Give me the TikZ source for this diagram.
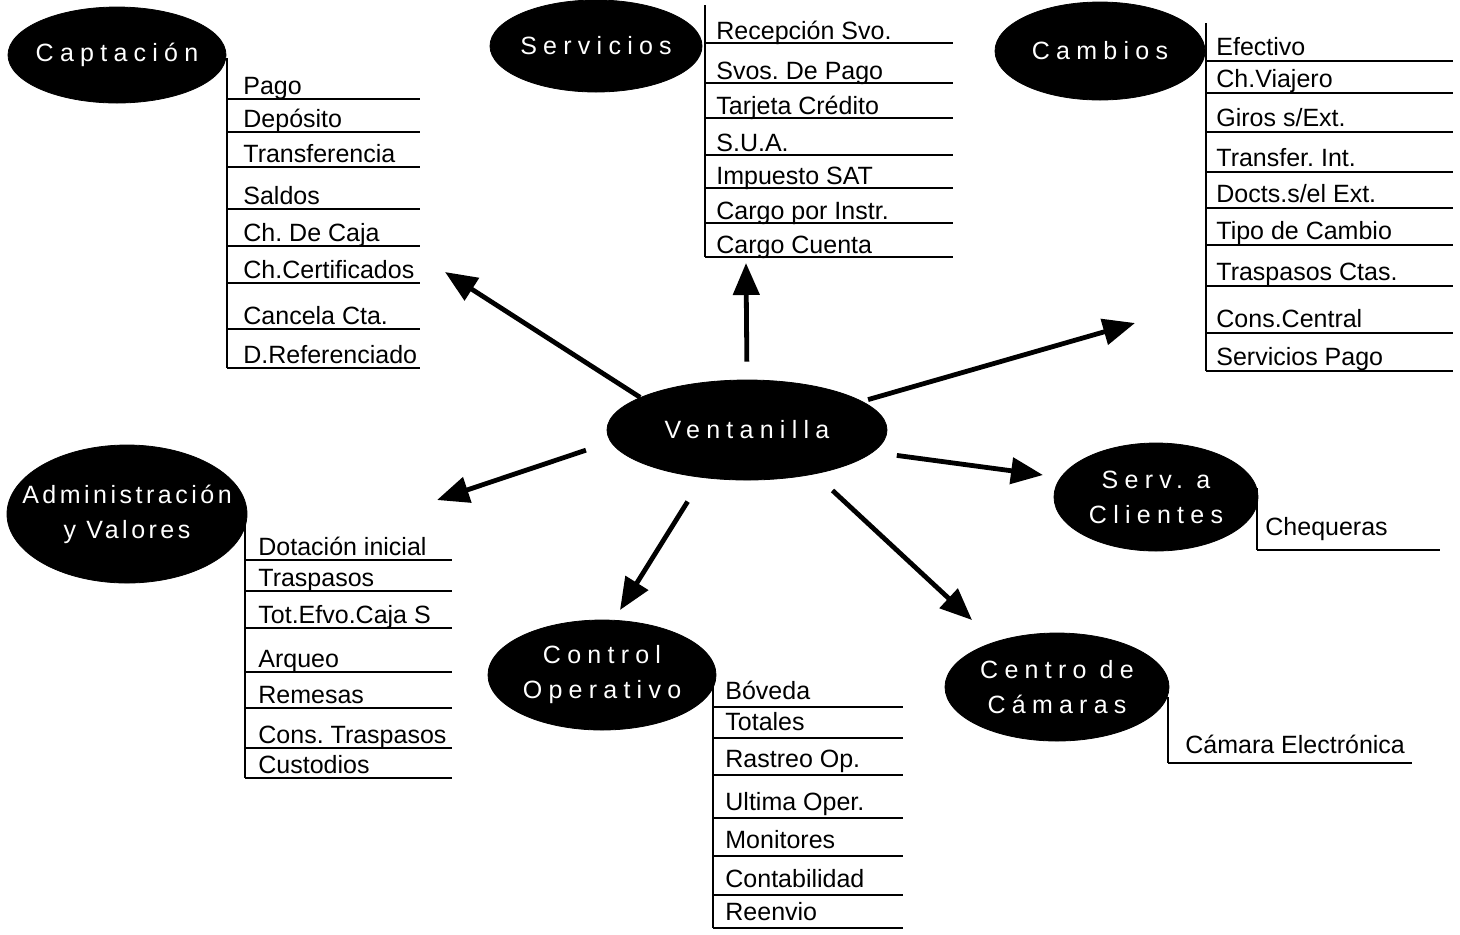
\documentclass[tikz,border=0pt]{standalone}
\usepackage{fontspec}
\setmainfont{Liberation Sans}
\newfontfamily\elipsefont[LetterSpace=25]{Liberation Sans}
\newfontfamily\elipsefontb[LetterSpace=14]{Liberation Sans}
\usetikzlibrary{arrows.meta,shapes.geometric}
\frenchspacing
\tikzset{
  elipse/.style={ellipse, fill=black, draw=black, text=white, inner xsep=-30pt,
    inner ysep=-4pt, align=center, font=\elipsefont\fontsize{12.5}{17.5}\selectfont},
  opcion/.style={anchor=base west, inner sep=0pt, font=\fontsize{12.5}{15}\selectfont},
  raya/.style={line width=0.7pt},
  flecha/.style={-{Triangle[length=16pt,width=13pt]}, line width=2.4pt, shorten <=#1},
  flecha/.default=0pt
}

\begin{document}
\begin{tikzpicture}[x=0.5pt, y=-0.5pt]
\useasboundingbox (0,0) rectangle (1460,934);

% modulos
\node[elipse, minimum width=140pt, minimum height=50pt] (vent) at (747,430) {Ventanilla};
\node[elipse, minimum width=109pt, minimum height=48pt] (capt) at (117,55) {Captación};
\node[elipse, minimum width=106pt, minimum height=46pt] (serv) at (596,46) {Servicios};
\node[elipse, minimum width=105pt, minimum height=49pt] (camb) at (1100,51) {Cambios};
\node[elipse, minimum width=120pt, minimum height=69pt,
  font=\elipsefontb\fontsize{12.5}{17.5}\selectfont] (admin) at (127,514) {Administración\\y Valores};
\node[elipse, minimum width=102pt, minimum height=54pt] (clien) at (1156,497) {Serv. a\\Clientes};
\node[elipse, minimum width=114pt, minimum height=55pt] (ctrl) at (602,675) {Control\\Operativo};
\node[elipse, minimum width=112pt, minimum height=54pt] (camar) at (1057,687) {Centro de\\Cámaras};

% listas de opciones
\draw[raya] (227,58) -- (227,368);
\foreach \txt/\yy [count=\i] in {Pago/99, Depósito/132, Transferencia/167, Saldos/209,
    Ch. De Caja/246, Ch.Certificados/283, Cancela Cta./329, D.Referenciado/368}{
  \node[opcion] (capt\i) at (243,{\yy-5}) {\txt};
  \draw[raya] (227,\yy) -- (420,\yy);
}

\draw[raya] (705,5) -- (705,257);
\foreach \txt/\yy [count=\i] in {Recepción Svo./43, Svos. De Pago/83, Tarjeta Crédito/118,
    S.U.A./155, Impuesto SAT/188, Cargo por Instr./223, Cargo Cuenta/257}{
  \node[opcion] (serv\i) at (716,{\yy-4}) {\txt};
  \draw[raya] (705,\yy) -- (953,\yy);
}

\draw[raya] (1206,23) -- (1206,371);
\foreach \txt/\yy [count=\i] in {Efectivo/61, Ch.Viajero/93, {Giros s/Ext.}/132,
    Transfer. Int./172, {Docts.s/el Ext.}/208, Tipo de Cambio/245, Traspasos Ctas./286,
    Cons.Central/333, Servicios Pago/371}{
  \node[opcion] (camb\i) at (1216,{\yy-6}) {\txt};
  \draw[raya] (1206,\yy) -- (1453,\yy);
}

\draw[raya] (245,520) -- (245,778);
\foreach \txt/\yy [count=\i] in {Dotación inicial/560, Traspasos/591, Tot.Efvo.Caja S/628,
    Arqueo/672, Remesas/708, Cons. Traspasos/748, Custodios/778}{
  \node[opcion] (admin\i) at (258,{\yy-5}) {\txt};
  \draw[raya] (245,\yy) -- (452,\yy);
}

\draw[raya] (1257,488) -- (1257,550);
\node[opcion] (clien1) at (1265,535) {Chequeras};
\draw[raya] (1257,550) -- (1440,550);

\draw[raya] (713,667) -- (713,928);
\foreach \txt/\yy [count=\i] in {Bóveda/707, Totales/738, Rastreo Op./775, Ultima Oper./818,
    Monitores/856, Contabilidad/895, Reenvio/928}{
  \node[opcion] (ctrl\i) at (725,{\yy-8}) {\txt};
  \draw[raya] (713,\yy) -- (903,\yy);
}

\draw[raya] (1168,697) -- (1168,763);
\node[opcion] (camar1) at (1185,753) {Cámara Electrónica};
\draw[raya] (1168,763) -- (1412,763);

% flechas
\coordinate (pcapt) at (445,272);
\coordinate (pserv) at (746,263);
\coordinate (pcamb) at (1135,323);
\coordinate (padmin) at (437,500);
\coordinate (pclien) at (1043,475);
\coordinate (pctrl) at (620,610);
\coordinate (pcamar) at (972,620);

\draw[flecha] (vent.163) -- (pcapt);
\draw[flecha=9pt] (vent.90) -- (pserv);
\draw[flecha=3pt] (vent.14) -- (pcamb);
\draw[flecha=13pt] (vent.185) -- (padmin);
\draw[flecha=12pt] (vent.350) -- (pclien);
\draw[flecha=14pt] (vent.227) -- (pctrl);
\draw[flecha=12pt] (vent.327) -- (pcamar);
\end{tikzpicture}
\end{document}
